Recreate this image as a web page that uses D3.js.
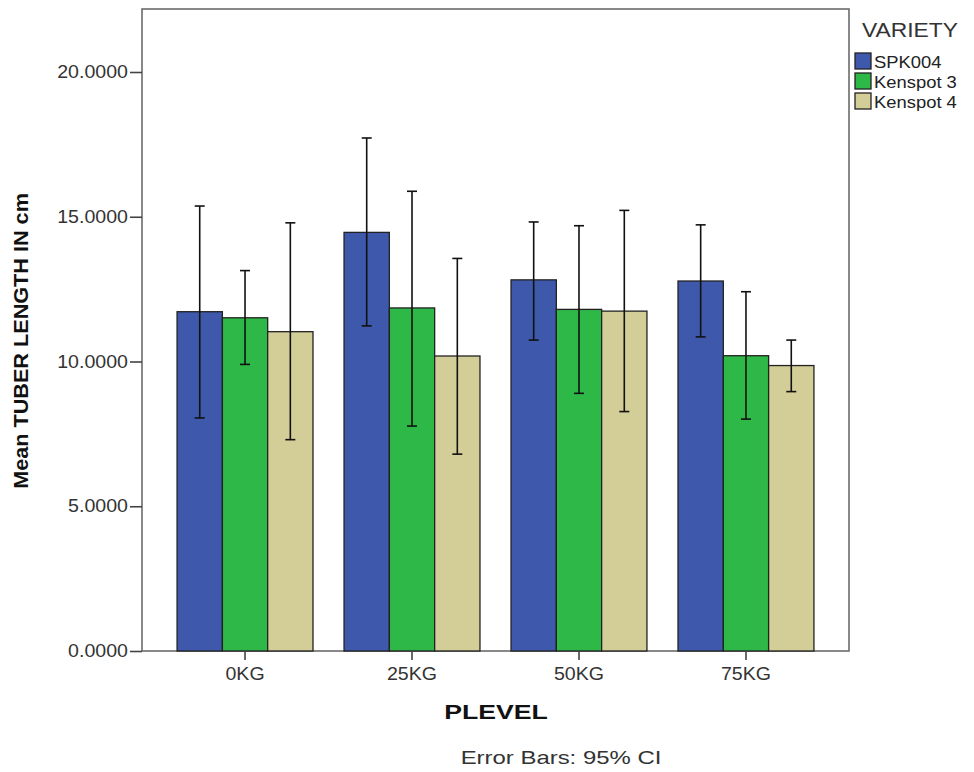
<!DOCTYPE html>
<html>
<head>
<meta charset="utf-8">
<script src="https://cdn.jsdelivr.net/npm/d3@7"></script>
<style>
  body { margin: 0; background: #fff; }
  text { font-family: "Liberation Sans", Arial, sans-serif; }
</style>
</head>
<body>
<svg id="chart" width="974" height="772"></svg>
<script>
const levels = ["0KG", "25KG", "50KG", "75KG"];
const varieties = ["SPK004", "Kenspot 3", "Kenspot 4"];
const colors = ["#3e58ac", "#2eb848", "#d3ce97"];
const yTicks = [0, 5, 10, 15, 20];

// mean per level, one array per variety
const meanSPK004 = [11.72, 14.46, 12.82, 12.78];
const meanKenspot3 = [11.51, 11.85, 11.80, 10.20];
const meanKenspot4 = [11.03, 10.19, 11.74, 9.86];

// 95% CI lower / upper
const lowSPK004 = [8.05, 11.23, 10.74, 10.85];
const highSPK004 = [15.37, 17.72, 14.82, 14.72];
const lowKenspot3 = [9.90, 7.77, 8.90, 8.01];
const highKenspot3 = [13.14, 15.88, 14.69, 12.41];
const lowKenspot4 = [7.30, 6.80, 8.27, 8.96];
const highKenspot4 = [14.79, 13.56, 15.22, 10.74];

const means = [meanSPK004, meanKenspot3, meanKenspot4];
const lows = [lowSPK004, lowKenspot3, lowKenspot4];
const highs = [highSPK004, highKenspot3, highKenspot4];

const rows = [];
levels.forEach((lv, i) => {
  varieties.forEach((v, j) => {
    rows.push({ level: lv, variety: v, mean: means[j][i], lo: lows[j][i], hi: highs[j][i], k: j });
  });
});

const plotLeft = 142, plotRight = 849, plotTop = 9, plotBottom = 651;

const x = d3.scaleBand().domain(levels).range([plotLeft, plotRight]).paddingInner(0.186).paddingOuter(0.21);
const xs = d3.scaleBand().domain(varieties).range([0, x.bandwidth()]);
const y = d3.scaleLinear().domain([0, 20]).range([plotBottom, 72]);

const svg = d3.select('#chart');

// the original text is drawn a bit wide, so stretch it horizontally
function label(px, py, str, size, sx, opts) {
  opts = opts || {};
  return svg.append('text')
      .attr('transform', `translate(${px},${py}) rotate(${opts.rot || 0}) scale(${sx},1)`)
      .attr('text-anchor', opts.anchor || 'start')
      .attr('font-size', size)
      .attr('font-weight', opts.bold ? 'bold' : 'normal')
      .attr('fill', opts.fill || '#222')
      .text(str);
}

// frame
svg.append('rect')
    .attr('x', plotLeft).attr('y', plotTop)
    .attr('width', plotRight - plotLeft).attr('height', plotBottom - plotTop)
    .attr('fill', 'none').attr('stroke', '#6b6b6b').attr('stroke-width', 1.6);

// bars
svg.append('g').selectAll('rect')
    .data(rows)
    .enter()
    .append('rect')
    .attr('x', d => x(d.level) + xs(d.variety))
    .attr('y', d => y(d.mean))
    .attr('width', xs.bandwidth())
    .attr('height', d => y(0) - y(d.mean))
    .attr('fill', d => colors[d.k])
    .attr('stroke', '#222')
    .attr('stroke-width', 1.3);

// error bars
const eb = svg.append('g').selectAll('g')
    .data(rows)
    .enter()
    .append('g')
    .attr('stroke', '#111')
    .attr('stroke-width', 1.6);
const cx = d => x(d.level) + xs(d.variety) + xs.bandwidth() / 2;
eb.append('line')
    .attr('x1', cx).attr('x2', cx)
    .attr('y1', d => y(d.lo)).attr('y2', d => y(d.hi));
eb.append('line')
    .attr('x1', d => cx(d) - 5).attr('x2', d => cx(d) + 5)
    .attr('y1', d => y(d.hi)).attr('y2', d => y(d.hi));
eb.append('line')
    .attr('x1', d => cx(d) - 5).attr('x2', d => cx(d) + 5)
    .attr('y1', d => y(d.lo)).attr('y2', d => y(d.lo));

// axes
const tickSx = 1.12;
const yAxis = d3.axisLeft(y).tickValues(yTicks).tickFormat(d3.format('.4f')).tickSize(12).tickPadding(2);
const gy = svg.append('g').attr('transform', `translate(${plotLeft},0)`).call(yAxis);
gy.select('.domain').remove();

const xAxis = d3.axisBottom(x).tickSize(9).tickPadding(8);
const gx = svg.append('g').attr('transform', `translate(0,${plotBottom})`).call(xAxis);
gx.select('.domain').remove();

svg.selectAll('.tick line').attr('stroke', '#444').attr('stroke-width', 1.6);
svg.selectAll('.tick text')
    .attr('font-size', 17.5).attr('fill', '#333')
    .attr('font-family', '"Liberation Sans", Arial, sans-serif')
    .each(function() {
      const t = d3.select(this);
      t.attr('x', (+t.attr('x') || 0) / tickSx).attr('transform', `scale(${tickSx},1)`);
    });

// titles
label(28, 341, 'Mean TUBER LENGTH IN cm', 19.5, 1.11, { rot: -90, anchor: 'middle', bold: true, fill: '#111' });
label(496, 719, 'PLEVEL', 21, 1.27, { anchor: 'middle', bold: true, fill: '#111' });
label(561, 764, 'Error Bars: 95% CI', 18, 1.33, { anchor: 'middle', fill: '#333' });

// legend
label(862, 37, 'VARIETY', 19.5, 1.17, { fill: '#333' });

const lg = svg.append('g').selectAll('g')
    .data(varieties)
    .enter()
    .append('g')
    .attr('transform', (d, i) => `translate(855,${53 + i * 20})`);
lg.append('rect')
    .attr('width', 16).attr('height', 16)
    .attr('fill', (d, i) => colors[i])
    .attr('stroke', '#222').attr('stroke-width', 1.3);
lg.append('text')
    .attr('transform', 'translate(19,14.5) scale(1.15,1)')
    .attr('font-size', 16).attr('fill', '#222')
    .text(d => d);
</script>
</body>
</html>
